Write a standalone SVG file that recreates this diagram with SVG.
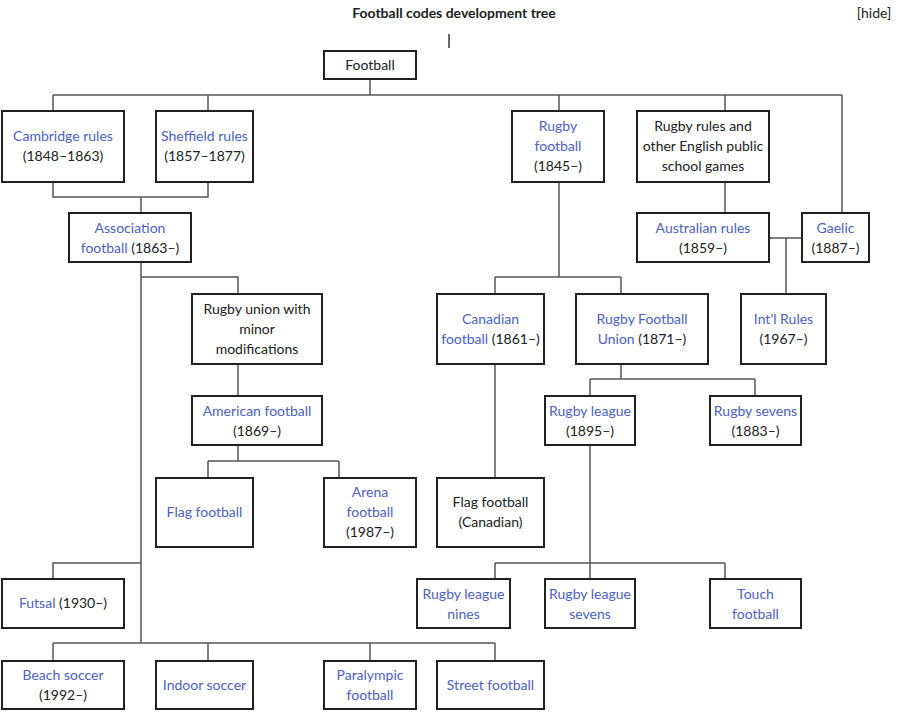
<svg xmlns="http://www.w3.org/2000/svg" width="900" height="717" viewBox="0 0 900 717">
<style>
text{font-family:Lato,"Liberation Sans",sans-serif;font-size:14px;fill:#202122;text-anchor:middle}
.l{fill:#4b5fc4}
.t{font-weight:bold}
.box{fill:#fff;stroke:#202122;stroke-width:2}
.c{fill:none;stroke:#555;stroke-width:1.5}
</style>
<rect width="900" height="717" fill="#fff"/>
<text class="t" x="454" y="18">Football codes development tree</text>
<text x="874" y="18">[hide]</text>
<line x1="449" y1="34" x2="449" y2="48" stroke="#3b2f4a" stroke-width="1.5"/>
<g id="connectors" class="c">
<path class="c" d="M370 79V95M53 95H842M53 95V111M208 95V111M559 95V111M725 95V111M842 95V213"/>
<path class="c" d="M53 182V197H208V182M141 197V213"/>
<path class="c" d="M141 262V643M141 277H238V294M238 364V396M238 445V461M208 461H339M208 461V478M339 461V478"/>
<path class="c" d="M141 563H53V579M53 643H495M53 643V661M208 643V661M370 643V661M495 643V661"/>
<path class="c" d="M559 182V277M495 277H621M495 277V294M621 277V294M495 364V478"/>
<path class="c" d="M621 364V379M590 379H755M590 379V396M755 379V396"/>
<path class="c" d="M590 445V579M495 563H725M495 563V579M725 563V579"/>
<path class="c" d="M725 182V213M769 238H802M786 238V294"/>
</g>
<g id="football"><rect class="box" x="324" y="51" width="92" height="28"/><text x="370" y="70">Football</text></g>
<g id="cambridge"><rect class="box" x="2" y="111" width="122" height="71"/><text class="l" x="63" y="141">Cambridge rules</text><text x="63" y="161">(1848–1863)</text></g>
<g id="sheffield"><rect class="box" x="156" y="111" width="97" height="71"/><text class="l" x="204.5" y="141">Sheffield rules</text><text x="204.5" y="161">(1857–1877)</text></g>
<g id="association"><rect class="box" x="69" y="213" width="122" height="49"/><text class="l" x="130" y="233">Association</text><text x="130" y="253"><tspan class="l">football</tspan> (1863–)</text></g>
<g id="rugby-football"><rect class="box" x="512" y="111" width="92" height="71"/><text class="l" x="558" y="131">Rugby</text><text class="l" x="558" y="151">football</text><text x="558" y="171">(1845–)</text></g>
<g id="rugby-rules"><rect class="box" x="637" y="111" width="132" height="71"/><text x="703" y="131">Rugby rules and</text><text x="703" y="151">other English public</text><text x="703" y="171">school games</text></g>
<g id="australian"><rect class="box" x="637" y="213" width="132" height="49"/><text class="l" x="703" y="233">Australian rules</text><text x="703" y="253">(1859–)</text></g>
<g id="gaelic"><rect class="box" x="802" y="213" width="67" height="49"/><text class="l" x="835.5" y="233">Gaelic</text><text x="835.5" y="253">(1887–)</text></g>
<g id="intl-rules"><rect class="box" x="741" y="294" width="85" height="70"/><text class="l" x="783.5" y="324">Int'l Rules</text><text x="783.5" y="344">(1967–)</text></g>
<g id="canadian"><rect class="box" x="437" y="294" width="107" height="70"/><text class="l" x="490.5" y="324">Canadian</text><text x="490.5" y="344"><tspan class="l">football</tspan> (1861–)</text></g>
<g id="rfu"><rect class="box" x="576" y="294" width="132" height="70"/><text class="l" x="642" y="324">Rugby Football</text><text x="642" y="344"><tspan class="l">Union</tspan> (1871–)</text></g>
<g id="rugby-union-mod"><rect class="box" x="192" y="294" width="130" height="70"/><text x="257" y="314">Rugby union with</text><text x="257" y="334">minor</text><text x="257" y="354">modifications</text></g>
<g id="american"><rect class="box" x="192" y="396" width="130" height="49"/><text class="l" x="257" y="416">American football</text><text x="257" y="436">(1869–)</text></g>
<g id="flag"><rect class="box" x="156" y="478" width="97" height="69"/><text class="l" x="204.5" y="517">Flag football</text></g>
<g id="arena"><rect class="box" x="324" y="478" width="92" height="69"/><text class="l" x="370" y="497">Arena</text><text class="l" x="370" y="517">football</text><text x="370" y="537">(1987–)</text></g>
<g id="flag-canadian"><rect class="box" x="437" y="478" width="107" height="69"/><text x="490.5" y="507">Flag football</text><text x="490.5" y="527">(Canadian)</text></g>
<g id="rugby-league"><rect class="box" x="545" y="396" width="90" height="49"/><text class="l" x="590" y="416">Rugby league</text><text x="590" y="436">(1895–)</text></g>
<g id="rugby-sevens"><rect class="box" x="710" y="396" width="91" height="49"/><text class="l" x="755.5" y="416">Rugby sevens</text><text x="755.5" y="436">(1883–)</text></g>
<g id="futsal"><rect class="box" x="2" y="579" width="122" height="49"/><text x="63" y="608"><tspan class="l">Futsal</tspan> (1930–)</text></g>
<g id="rl-nines"><rect class="box" x="417" y="579" width="93" height="49"/><text class="l" x="463.5" y="599">Rugby league</text><text class="l" x="463.5" y="619">nines</text></g>
<g id="rl-sevens"><rect class="box" x="545" y="579" width="90" height="49"/><text class="l" x="590" y="599">Rugby league</text><text class="l" x="590" y="619">sevens</text></g>
<g id="touch"><rect class="box" x="710" y="579" width="91" height="49"/><text class="l" x="755.5" y="599">Touch</text><text class="l" x="755.5" y="619">football</text></g>
<g id="beach"><rect class="box" x="2" y="661" width="122" height="48"/><text class="l" x="63" y="680">Beach soccer</text><text x="63" y="700">(1992–)</text></g>
<g id="indoor"><rect class="box" x="156" y="661" width="97" height="48"/><text class="l" x="204.5" y="690">Indoor soccer</text></g>
<g id="paralympic"><rect class="box" x="324" y="661" width="92" height="48"/><text class="l" x="370" y="680">Paralympic</text><text class="l" x="370" y="700">football</text></g>
<g id="street"><rect class="box" x="437" y="661" width="107" height="48"/><text class="l" x="490.5" y="690">Street football</text></g>
</svg>
